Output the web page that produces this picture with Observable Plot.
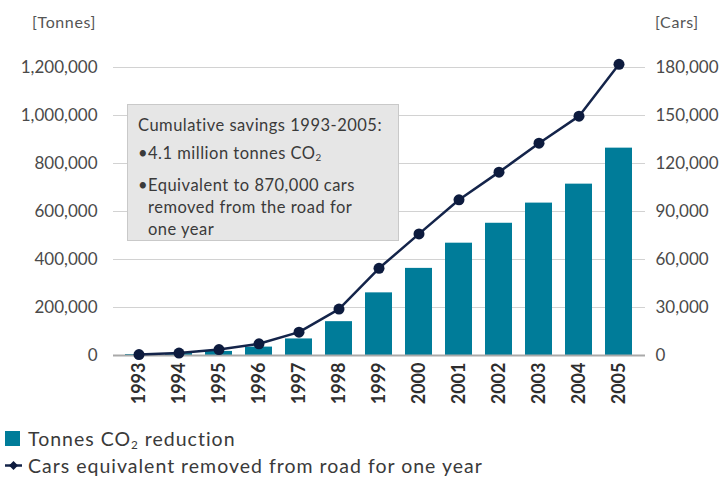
<!DOCTYPE html>
<html>
<head>
<meta charset="utf-8">
<script src="https://cdn.jsdelivr.net/npm/d3@7"></script>
<script src="https://cdn.jsdelivr.net/npm/@observablehq/plot@0.6"></script>
<style>
  html, body { margin: 0; padding: 0; background: #fff; }
  #wrap { position: relative; width: 728px; height: 480px; font-family: Lato, "Open Sans", sans-serif; color: #444; }
  #chart { position: absolute; left: 0; top: 0; }
  .unit { position: absolute; top: 12px; font-size: 16px; letter-spacing: 0.6px; color: #555; }
  #note { position: absolute; left: 127px; top: 104px; width: 272px; height: 137px; box-sizing: border-box;
          background: #e6e6e6; border: 1.5px solid #c9c9c9; padding: 9px 0 0 10px; color: #3a3a3a;
          font-size: 16.5px; letter-spacing: 0.5px; line-height: 22px; white-space: nowrap; }
  #note .b { display: flex; margin-top: 6px; }
  #note .b span.dot { width: 10px; flex: none; }
  #legend { position: absolute; left: 5px; top: 425px; font-size: 19.5px; letter-spacing: 1px; color: #3a3a3a; }
  #legend .row { display: flex; align-items: center; height: 27px; }
  #legend .sw { width: 17px; flex: none; margin-right: 6px; }
  sub { font-size: 0.6em; vertical-align: -0.25em; }
</style>
</head>
<body>
<div id="wrap">
  <div id="chart"></div>
  <div class="unit" style="right:632px;">[Tonnes]</div>
  <div class="unit" style="left:655px;">[Cars]</div>
  <div id="note">
    <div>Cumulative savings 1993-2005:</div>
    <div class="b"><span class="dot">•</span><span>4.1 million tonnes CO<sub>2</sub></span></div>
    <div class="b"><span class="dot">•</span><span>Equivalent to 870,000 cars<br>removed from the road for<br>one year</span></div>
  </div>
  <div id="legend">
    <div class="row"><svg class="sw" width="17" height="17"><rect x="0" y="1" width="15" height="15" fill="#007c99"/></svg><span>Tonnes CO<sub>2</sub> reduction</span></div>
    <div class="row"><svg class="sw" width="17" height="17"><line x1="0" y1="8.5" x2="17" y2="8.5" stroke="#14244a" stroke-width="2.5"/><path d="M8.5 4 L13 8.5 L8.5 13 L4 8.5 Z" fill="#0d1b3e"/></svg><span>Cars equivalent removed from road for one year</span></div>
  </div>
</div>
<script>
// Years of the programme
const years = ["1993","1994","1995","1996","1997","1998","1999","2000","2001","2002","2003","2004","2005"];
// Cumulative CO2 reduction, tonnes (left axis)
const tonnes = [4000, 8000, 17000, 35000, 69000, 141000, 261000, 363000, 468000, 551000, 635000, 714000, 864000];
// Cars equivalent removed from the road for one year (right axis)
const cars = [600, 1500, 3700, 7300, 14600, 29000, 54500, 76000, 97300, 114600, 132700, 149600, 182000];
// Axis ticks
const tonneTicks = [0, 200000, 400000, 600000, 800000, 1000000, 1200000];
const carTicks = [0, 30000, 60000, 90000, 120000, 150000, 180000];

// Both series share one y scale: cars are rescaled onto the tonnes range
const tonneMax = 1200000, carMax = 180000;
const k = tonneMax / carMax;

const rows = years.map((year, i) => ({year, tonnes: tonnes[i], cars: cars[i], carsScaled: cars[i] * k}));
const fmt = d3.format(",");

const chart = Plot.plot({
  width: 728,
  height: 415,
  marginLeft: 113,
  marginRight: 83,
  marginTop: 67,
  marginBottom: 60,
  style: {fontFamily: "Lato, 'Open Sans', sans-serif", background: "transparent"},
  x: {type: "band", domain: years, paddingInner: 0.32, paddingOuter: 0.27},
  y: {domain: [0, tonneMax]},
  marks: [
    Plot.gridY(tonneTicks, {stroke: "#d2d2d2", strokeOpacity: 1, strokeWidth: 1.2}),
    Plot.axisY(tonneTicks, {anchor: "left", tickSize: 0, tickPadding: 16, tickFormat: fmt, label: null,
      fontSize: 17, fill: "#4a4a4a", style: {letterSpacing: "1.3px"}}),
    Plot.axisY(carTicks.map(c => c * k), {anchor: "right", tickSize: 0, tickPadding: 10,
      tickFormat: d => fmt(Math.round(d / k)), label: null, fontSize: 17, fill: "#4a4a4a", style: {letterSpacing: "0.9px"}}),
    Plot.barY(rows, {x: "year", y: "tonnes", fill: "#007c99"}),
    Plot.ruleY([0], {stroke: "#a9a9a9", strokeWidth: 2}),
    Plot.line(rows, {x: "year", y: "carsScaled", stroke: "#14244a", strokeWidth: 2.5}),
    Plot.dot(rows, {x: "year", y: "carsScaled", r: 5.5, fill: "#0d1b3e", stroke: "none"}),
    Plot.axisX({tickRotate: -90, tickSize: 0, tickPadding: 7, label: null, fontSize: 18, fontWeight: "bold", fill: "#2e2e2e"})
  ]
});
document.getElementById("chart").appendChild(chart);
</script>
</body>
</html>
